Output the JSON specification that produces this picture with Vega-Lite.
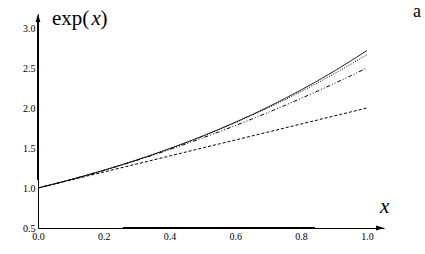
{
  "$schema": "https://vega.github.io/schema/vega-lite/v6.json",
  "autosize": "none",
  "width": 346,
  "height": 214,
  "padding": {"left": 38, "top": 14, "right": 41, "bottom": 26},
  "background": "white",
  "config": {"view": {"stroke": null}, "text": {"font": "serif"}},
  "layer": [
    {
      "data": {
        "values": [
          {"x": 0.00, "exp": 1.0000, "t1": 1.00, "t2": 1.00000, "t3": 1.00000},
          {"x": 0.05, "exp": 1.0513, "t1": 1.05, "t2": 1.05125, "t3": 1.05127},
          {"x": 0.10, "exp": 1.1052, "t1": 1.10, "t2": 1.10500, "t3": 1.10517},
          {"x": 0.15, "exp": 1.1618, "t1": 1.15, "t2": 1.16125, "t3": 1.16181},
          {"x": 0.20, "exp": 1.2214, "t1": 1.20, "t2": 1.22000, "t3": 1.22133},
          {"x": 0.25, "exp": 1.2840, "t1": 1.25, "t2": 1.28125, "t3": 1.28385},
          {"x": 0.30, "exp": 1.3499, "t1": 1.30, "t2": 1.34500, "t3": 1.34950},
          {"x": 0.35, "exp": 1.4191, "t1": 1.35, "t2": 1.41125, "t3": 1.41840},
          {"x": 0.40, "exp": 1.4918, "t1": 1.40, "t2": 1.48000, "t3": 1.49067},
          {"x": 0.45, "exp": 1.5683, "t1": 1.45, "t2": 1.55125, "t3": 1.56644},
          {"x": 0.50, "exp": 1.6487, "t1": 1.50, "t2": 1.62500, "t3": 1.64583},
          {"x": 0.55, "exp": 1.7333, "t1": 1.55, "t2": 1.70125, "t3": 1.72898},
          {"x": 0.60, "exp": 1.8221, "t1": 1.60, "t2": 1.78000, "t3": 1.81600},
          {"x": 0.65, "exp": 1.9155, "t1": 1.65, "t2": 1.86125, "t3": 1.90702},
          {"x": 0.70, "exp": 2.0138, "t1": 1.70, "t2": 1.94500, "t3": 2.00217},
          {"x": 0.75, "exp": 2.1170, "t1": 1.75, "t2": 2.03125, "t3": 2.10156},
          {"x": 0.80, "exp": 2.2255, "t1": 1.80, "t2": 2.12000, "t3": 2.20533},
          {"x": 0.85, "exp": 2.3396, "t1": 1.85, "t2": 2.21125, "t3": 2.31360},
          {"x": 0.90, "exp": 2.4596, "t1": 1.90, "t2": 2.30500, "t3": 2.42650},
          {"x": 0.95, "exp": 2.5857, "t1": 1.95, "t2": 2.40125, "t3": 2.54415},
          {"x": 1.00, "exp": 2.7183, "t1": 2.00, "t2": 2.50000, "t3": 2.66667}
        ]
      },
      "transform": [{"fold": ["exp", "t3", "t2", "t1"], "as": ["series", "value"]}],
      "mark": {"type": "line", "color": "black", "strokeWidth": 1, "clip": false},
      "encoding": {
        "x": {"field": "x", "type": "quantitative",
          "scale": {"domain": [0, 1.052], "nice": false, "zero": false},
          "axis": {"values": [0, 0.2, 0.4, 0.6, 0.8, 1.0], "format": ".1f", "title": null, "ticks": false, "grid": false,
            "domainColor": "black", "domainWidth": 1, "labelFont": "serif", "labelFontSize": 10,
            "labelColor": "black", "labelPadding": 3, "labelFlush": false, "labelOverlap": false}},
        "y": {"field": "value", "type": "quantitative",
          "scale": {"domain": [0.5, 3.175], "nice": false, "zero": false},
          "axis": {"values": [0.5, 1.0, 1.5, 2.0, 2.5, 3.0], "format": ".1f", "title": null, "ticks": false, "grid": false,
            "domainColor": "black", "domainWidth": 1, "labelFont": "serif", "labelFontSize": 10,
            "labelColor": "black", "labelPadding": 3, "labelFlush": false, "labelOverlap": false}},
        "strokeDash": {"field": "series", "type": "nominal", "legend": null,
          "scale": {"domain": ["exp", "t3", "t2", "t1"], "range": [[1, 0], [1, 1.5], [1, 2, 1, 2, 4, 2], [3, 2]]}},
        "detail": {"field": "series"}
      }
    },
    {
      "data": {"values": [{}]},
      "mark": {"type": "rule", "color": "black", "strokeWidth": 2, "clip": false},
      "encoding": {
        "x": {"datum": 0.258, "type": "quantitative", "scale": {"domain": [0, 1.052], "nice": false, "zero": false},
          "axis": {"values": [0, 0.2, 0.4, 0.6, 0.8, 1.0], "format": ".1f", "title": null, "ticks": false, "grid": false,
            "domainColor": "black", "domainWidth": 1, "labelFont": "serif", "labelFontSize": 10,
            "labelColor": "black", "labelPadding": 3, "labelFlush": false, "labelOverlap": false}},
        "x2": {"datum": 0.842},
        "y": {"datum": 0.5, "type": "quantitative", "scale": {"domain": [0.5, 3.175], "nice": false, "zero": false},
          "axis": {"values": [0.5, 1.0, 1.5, 2.0, 2.5, 3.0], "format": ".1f", "title": null, "ticks": false, "grid": false,
            "domainColor": "black", "domainWidth": 1, "labelFont": "serif", "labelFontSize": 10,
            "labelColor": "black", "labelPadding": 3, "labelFlush": false, "labelOverlap": false}}
      }
    },
    {
      "data": {"values": [{}]},
      "mark": {"type": "rule", "color": "black", "strokeWidth": 2, "clip": false},
      "encoding": {
        "x": {"datum": 0, "type": "quantitative", "scale": {"domain": [0, 1.052], "nice": false, "zero": false},
          "axis": {"values": [0, 0.2, 0.4, 0.6, 0.8, 1.0], "format": ".1f", "title": null, "ticks": false, "grid": false,
            "domainColor": "black", "domainWidth": 1, "labelFont": "serif", "labelFontSize": 10,
            "labelColor": "black", "labelPadding": 3, "labelFlush": false, "labelOverlap": false}},
        "y": {"datum": 1.1, "type": "quantitative", "scale": {"domain": [0.5, 3.175], "nice": false, "zero": false},
          "axis": {"values": [0.5, 1.0, 1.5, 2.0, 2.5, 3.0], "format": ".1f", "title": null, "ticks": false, "grid": false,
            "domainColor": "black", "domainWidth": 1, "labelFont": "serif", "labelFontSize": 10,
            "labelColor": "black", "labelPadding": 3, "labelFlush": false, "labelOverlap": false}},
        "y2": {"datum": 3.1}
      }
    },
    {
      "data": {"values": [{}]},
      "mark": {"type": "point", "shape": "M0,0L0.3,1L-0.3,1Z", "size": 256, "filled": true, "color": "black", "opacity": 1, "clip": false},
      "encoding": {
        "x": {"datum": 0, "type": "quantitative", "scale": {"domain": [0, 1.052], "nice": false, "zero": false},
          "axis": {"values": [0, 0.2, 0.4, 0.6, 0.8, 1.0], "format": ".1f", "title": null, "ticks": false, "grid": false,
            "domainColor": "black", "domainWidth": 1, "labelFont": "serif", "labelFontSize": 10,
            "labelColor": "black", "labelPadding": 3, "labelFlush": false, "labelOverlap": false}},
        "y": {"datum": 3.175, "type": "quantitative", "scale": {"domain": [0.5, 3.175], "nice": false, "zero": false},
          "axis": {"values": [0.5, 1.0, 1.5, 2.0, 2.5, 3.0], "format": ".1f", "title": null, "ticks": false, "grid": false,
            "domainColor": "black", "domainWidth": 1, "labelFont": "serif", "labelFontSize": 10,
            "labelColor": "black", "labelPadding": 3, "labelFlush": false, "labelOverlap": false}}
      }
    },
    {
      "data": {"values": [{}]},
      "mark": {"type": "point", "shape": "M0,0L-1,-0.3L-1,0.3Z", "size": 256, "filled": true, "color": "black", "opacity": 1, "clip": false},
      "encoding": {
        "x": {"datum": 1.052, "type": "quantitative", "scale": {"domain": [0, 1.052], "nice": false, "zero": false},
          "axis": {"values": [0, 0.2, 0.4, 0.6, 0.8, 1.0], "format": ".1f", "title": null, "ticks": false, "grid": false,
            "domainColor": "black", "domainWidth": 1, "labelFont": "serif", "labelFontSize": 10,
            "labelColor": "black", "labelPadding": 3, "labelFlush": false, "labelOverlap": false}},
        "y": {"datum": 0.5, "type": "quantitative", "scale": {"domain": [0.5, 3.175], "nice": false, "zero": false},
          "axis": {"values": [0.5, 1.0, 1.5, 2.0, 2.5, 3.0], "format": ".1f", "title": null, "ticks": false, "grid": false,
            "domainColor": "black", "domainWidth": 1, "labelFont": "serif", "labelFontSize": 10,
            "labelColor": "black", "labelPadding": 3, "labelFlush": false, "labelOverlap": false}}
      }
    },
    {
      "data": {"values": [{"label": "exp(", "px": 0.0426}, {"label": ")", "px": 0.19}]},
      "mark": {"type": "text", "font": "serif", "fontSize": 21, "align": "left", "baseline": "alphabetic", "color": "black", "clip": false},
      "encoding": {
        "text": {"field": "label"},
        "x": {"field": "px", "type": "quantitative", "scale": {"domain": [0, 1.052], "nice": false, "zero": false},
          "axis": {"values": [0, 0.2, 0.4, 0.6, 0.8, 1.0], "format": ".1f", "title": null, "ticks": false, "grid": false,
            "domainColor": "black", "domainWidth": 1, "labelFont": "serif", "labelFontSize": 10,
            "labelColor": "black", "labelPadding": 3, "labelFlush": false, "labelOverlap": false}},
        "y": {"datum": 3.0375, "type": "quantitative", "scale": {"domain": [0.5, 3.175], "nice": false, "zero": false},
          "axis": {"values": [0.5, 1.0, 1.5, 2.0, 2.5, 3.0], "format": ".1f", "title": null, "ticks": false, "grid": false,
            "domainColor": "black", "domainWidth": 1, "labelFont": "serif", "labelFontSize": 10,
            "labelColor": "black", "labelPadding": 3, "labelFlush": false, "labelOverlap": false}}
      }
    },
    {
      "data": {"values": [{"label": "x", "px": 0.163, "py": 3.0375}, {"label": "x", "px": 1.0395, "py": 0.6875}]},
      "mark": {"type": "text", "font": "serif", "fontStyle": "italic", "fontSize": 21, "align": "left", "baseline": "alphabetic", "color": "black", "clip": false},
      "encoding": {
        "text": {"field": "label"},
        "x": {"field": "px", "type": "quantitative", "scale": {"domain": [0, 1.052], "nice": false, "zero": false},
          "axis": {"values": [0, 0.2, 0.4, 0.6, 0.8, 1.0], "format": ".1f", "title": null, "ticks": false, "grid": false,
            "domainColor": "black", "domainWidth": 1, "labelFont": "serif", "labelFontSize": 10,
            "labelColor": "black", "labelPadding": 3, "labelFlush": false, "labelOverlap": false}},
        "y": {"field": "py", "type": "quantitative", "scale": {"domain": [0.5, 3.175], "nice": false, "zero": false},
          "axis": {"values": [0.5, 1.0, 1.5, 2.0, 2.5, 3.0], "format": ".1f", "title": null, "ticks": false, "grid": false,
            "domainColor": "black", "domainWidth": 1, "labelFont": "serif", "labelFontSize": 10,
            "labelColor": "black", "labelPadding": 3, "labelFlush": false, "labelOverlap": false}}
      }
    },
    {
      "data": {"values": [{"label": "a"}]},
      "mark": {"type": "text", "font": "serif", "fontSize": 18, "align": "left", "baseline": "alphabetic", "color": "black", "clip": false},
      "encoding": {
        "text": {"field": "label"},
        "x": {"datum": 1.14, "type": "quantitative", "scale": {"domain": [0, 1.052], "nice": false, "zero": false},
          "axis": {"values": [0, 0.2, 0.4, 0.6, 0.8, 1.0], "format": ".1f", "title": null, "ticks": false, "grid": false,
            "domainColor": "black", "domainWidth": 1, "labelFont": "serif", "labelFontSize": 10,
            "labelColor": "black", "labelPadding": 3, "labelFlush": false, "labelOverlap": false}},
        "y": {"datum": 3.14, "type": "quantitative", "scale": {"domain": [0.5, 3.175], "nice": false, "zero": false},
          "axis": {"values": [0.5, 1.0, 1.5, 2.0, 2.5, 3.0], "format": ".1f", "title": null, "ticks": false, "grid": false,
            "domainColor": "black", "domainWidth": 1, "labelFont": "serif", "labelFontSize": 10,
            "labelColor": "black", "labelPadding": 3, "labelFlush": false, "labelOverlap": false}}
      }
    }
  ]
}
